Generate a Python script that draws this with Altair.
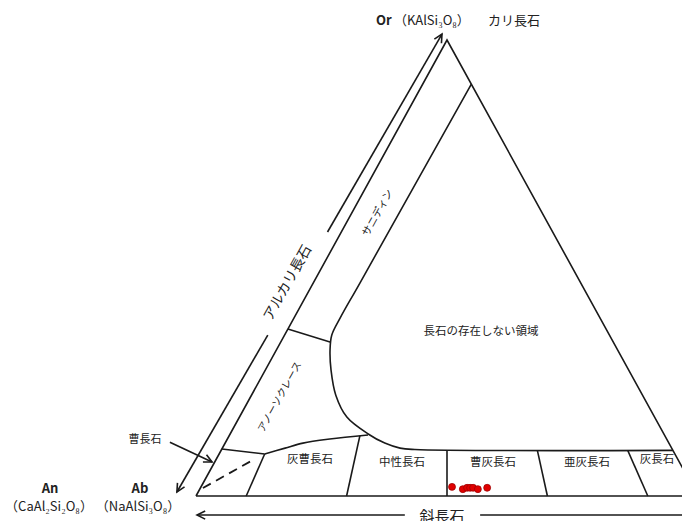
import altair as alt
import pandas as pd

# ---------------- data (ternary fractions: An, Or ; Ab = 1 - An - Or) ----------------
# measured feldspar compositions (red dots)
pt_an = [0.500, 0.524, 0.531, 0.537, 0.543, 0.554, 0.571]
pt_or = [0.020, 0.015, 0.018, 0.018, 0.018, 0.015, 0.018]

# triangle Ab -> An -> Or -> Ab
tri_an = [0.0, 1.0, 0.0, 0.0]
tri_or = [0.0, 0.0, 1.0, 0.0]

# boundary of the "no feldspar" field (sanidine line + solvus arc + plagioclase top)
sol_an = [0.097, 0.093, 0.092, 0.094, 0.107, 0.131, 0.168, 0.214, 0.275, 0.318, 0.354, 0.385, 0.900]
sol_or = [0.903, 0.467, 0.390, 0.353, 0.320, 0.276, 0.221, 0.173, 0.136, 0.116, 0.105, 0.102, 0.100]

# oligoclase upper boundary
oli_an = [0.0908, 0.125, 0.155, 0.204, 0.2757]
oli_or = [0.0921, 0.105, 0.116, 0.125, 0.1338]

# albite upper boundary
alb_an = [0.0, 0.0908]
alb_or = [0.103, 0.0921]

# sanidine / anorthoclase boundary
sa_an = [0.0, 0.100]
sa_or = [0.366, 0.337]

# plagioclase dividers: An/(An+Ab) ratio and upper Or
div_ratio = [0.1, 0.3, 0.5, 0.7, 0.9]
div_top_or = [0.0921, 0.132, 0.100, 0.100, 0.100]

# dashed line inside albite field
dash_an = [0.005, 0.074]
dash_or = [0.0175, 0.079]

# plot-plane layout (u = An + Or/2, v = Or)
W, H = 674, 513
U0, U1 = -188 / 502, (W - 188) / 502
V0, V1 = (488 - H) / 456, 488 / 456

def uv(an, o):
    return an + o / 2.0, o

rows = []
def add_line(name, ans, ors, kind):
    for i, (a, o) in enumerate(zip(ans, ors)):
        u, v = uv(a, o)
        rows.append(dict(id=name, k=i, u=u, v=v, kind=kind))

add_line("tri", tri_an, tri_or, "solid")
add_line("alb", alb_an, alb_or, "solid")
add_line("sa", sa_an, sa_or, "solid")
for r, t in zip(div_ratio, div_top_or):
    add_line(f"d{r}", [r, r * (1 - t)], [0.0, t], "solid")
add_line("sol", sol_an, sol_or, "curve")
add_line("oli", oli_an, oli_or, "curve")
add_line("dash", dash_an, dash_or, "dash")

# arrows in plot-plane coordinates (u, v)
arrow_segs = {
    "alk1": ([-0.038, 0.143], [0.0088, 0.353]),
    "alk2": ([0.262, 0.490], [0.579, 1.013]),
    "pl1": ([0.002, 0.416], [-0.0417, -0.0417]),
    "pl2": ([0.566, 1.10], [-0.0417, -0.0417]),
    "ptr": ([-0.052, 0.032], [0.118, 0.0746]),
}
for name, (us, vs) in arrow_segs.items():
    for i, (u, v) in enumerate(zip(us, vs)):
        rows.append(dict(id=name, k=i, u=u, v=v, kind="solid"))

lines = pd.DataFrame(rows)

heads = pd.DataFrame(dict(
    u=[0.490, -0.038, 0.002, 0.032],
    v=[1.013, 0.0088, -0.0417, 0.0746],
    ang=[30, 210, 270, 116],
))

pts = pd.DataFrame(dict(u=[a + o / 2 for a, o in zip(pt_an, pt_or)], v=pt_or))

# labels
lab_text = ["（KAlSi₃O₈）", "カリ長石", "（CaAl₂Si₂O₈）", "（NaAlSi₃O₈）", "曹長石",
            "灰曹長石", "中性長石", "曹灰長石", "亜灰長石", "灰長石",
            "長石の存在しない領域", "斜長石", "サニディン", "アノーソクレース", "アルカリ長石"]
lab_u = [0.3944, 0.5817, -0.2928, -0.1155, -0.1016,
         0.2271, 0.4104, 0.5916, 0.7789, 0.9183,
         0.5677, 0.4900, 0.3625, 0.1673, 0.1833]
lab_v = [1.0417, 1.0417, -0.0241, -0.0241, 0.1228,
         0.0789, 0.0724, 0.0724, 0.0724, 0.0789,
         0.3596, -0.0461, 0.6206, 0.2171, 0.4671]
lab_fs = [13, 13, 13, 13, 11, 11.5, 11.5, 11.5, 11.5, 11.5, 11.5, 15, 10.5, 10, 14]
lab_ang = [0, 0, 0, 0, 0, 0, 0, 0, 0, 0, 0, 0, 299, 299, 299]
lab_align = ["left", "left"] + ["center"] * 13

labels = pd.DataFrame(dict(t=lab_text, u=lab_u, v=lab_v, fs=lab_fs, ang=lab_ang, al=lab_align))

bold_text = ["Or", "An", "Ab"]
bold_u = [0.3586, -0.2908, -0.1116]
bold_v = [1.0417, 0.0154, 0.0154]
bold_al = ["left", "center", "center"]
bold = pd.DataFrame(dict(t=bold_text, u=bold_u, v=bold_v, al=bold_al))

# ---------------- chart ----------------
X = alt.X("u:Q", scale=alt.Scale(domain=[U0, U1], nice=False, zero=False), axis=None)
Y = alt.Y("v:Q", scale=alt.Scale(domain=[V0, V1], nice=False, zero=False), axis=None)
INK = "#1a1a1a"

solid = alt.Chart(lines).transform_filter(alt.datum.kind == "solid").mark_line(
    color=INK, strokeWidth=1.6
).encode(x=X, y=Y, detail="id:N", order="k:Q")

curve = alt.Chart(lines).transform_filter(alt.datum.kind == "curve").mark_line(
    color=INK, strokeWidth=1.6, interpolate="catmull-rom"
).encode(x=X, y=Y, detail="id:N", order="k:Q")

dashed = alt.Chart(lines).transform_filter(alt.datum.kind == "dash").mark_line(
    color=INK, strokeWidth=1.8, strokeDash=[9, 6]
).encode(x=X, y=Y, detail="id:N", order="k:Q")

arrowheads = alt.Chart(heads).mark_point(
    shape="M -0.45 0.9 L 0 0 L 0.45 0.9", size=330, filled=False, stroke=INK, strokeWidth=1.6, opacity=1
).encode(x=X, y=Y, angle=alt.Angle("ang:Q", scale=None))

dots = alt.Chart(pts).mark_circle(
    size=48, color="#e00000", stroke="#a00000", strokeWidth=0.8, opacity=1
).encode(x=X, y=Y)

def text_layer(df, align, bold=False):
    enc = dict(x=X, y=Y, text="t:N")
    if not bold:
        enc["size"] = alt.Size("fs:Q", scale=None)
        enc["angle"] = alt.Angle("ang:Q", scale=None)
    m = alt.Chart(df).transform_filter(alt.datum.al == align).mark_text(
        align=align, baseline="middle", color="#222222",
        font="Noto Sans CJK JP", fontWeight="bold" if bold else "normal",
        fontSize=13,
    )
    return m.encode(**enc)

chart = alt.layer(
    solid, curve, dashed, arrowheads, dots,
    text_layer(labels, "left"), text_layer(labels, "center"),
    text_layer(bold, "left", True), text_layer(bold, "center", True),
).properties(
    width=W, height=H, padding=0,
    autosize=alt.AutoSizeParams(type="none"),
).configure_view(stroke=None)

chart.save("out.html", embed_options={"renderer": "svg", "actions": False})
